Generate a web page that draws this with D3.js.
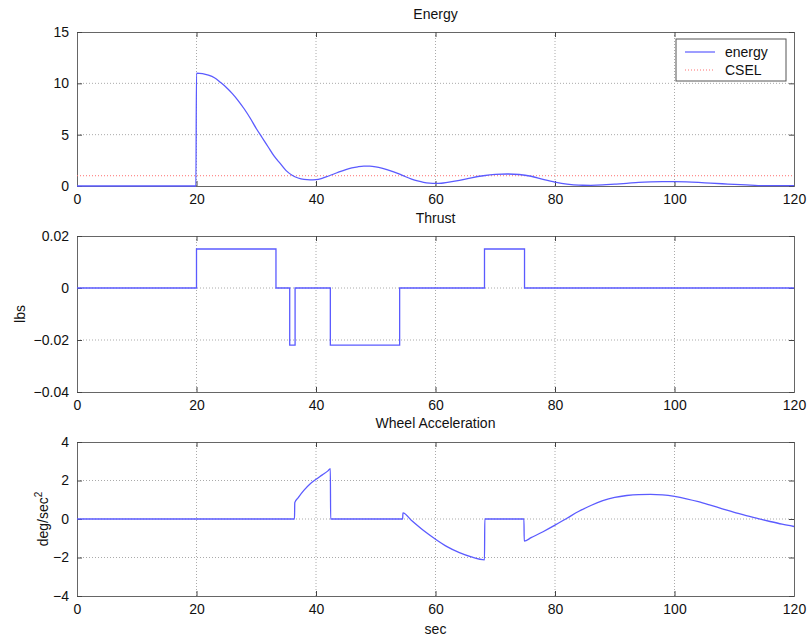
<!DOCTYPE html>
<html>
<head>
	<title>Energy, Thrust, Wheel Acceleration</title>
	<meta charset="utf-8">
	<script src="https://cdnjs.cloudflare.com/ajax/libs/d3/7.8.5/d3.min.js"></script>
	<style type="text/css">
		body { margin: 0; background: #fff; }
		text { font-family: "Liberation Sans", Arial, sans-serif; fill: #111; }
		.grid line { stroke: #aaa; stroke-dasharray: 1,2; }
	</style>
</head>
<body>
	<script type="text/javascript">

		// energy vs time
		let energyTime = [0, 19.9, 20, 21, 22, 23, 24, 25, 26, 27, 28, 29, 30, 31, 32, 33, 34, 35, 36, 37, 38, 39, 40,
			41, 42, 43, 44, 45, 46, 47, 48, 49, 50, 51, 52, 53, 54, 55, 56, 57, 58, 59, 60, 61, 62, 64, 66, 68, 70,
			72, 74, 76, 78, 80, 82, 84, 86, 88, 90, 92, 94, 96, 98, 100, 102, 104, 106, 108, 110, 112, 114, 116, 118, 120];
		let energyValue = [0, 0, 11, 10.95, 10.8, 10.55, 10.1, 9.6, 9.0, 8.3, 7.5, 6.6, 5.6, 4.7, 3.8, 2.9, 2.2, 1.5, 1.05, 0.78, 0.64, 0.6,
			0.62, 0.75, 0.95, 1.17, 1.4, 1.6, 1.76, 1.87, 1.93, 1.93, 1.87, 1.75, 1.58, 1.38, 1.15, 0.9, 0.68, 0.5, 0.36,
			0.28, 0.25, 0.27, 0.35, 0.55, 0.8, 1.0, 1.13, 1.17, 1.12, 0.95, 0.65, 0.38, 0.18, 0.08, 0.07, 0.1, 0.18,
			0.26, 0.35, 0.4, 0.42, 0.42, 0.4, 0.35, 0.28, 0.22, 0.16, 0.1, 0.04, 0.03, 0.03, 0.03];
		let cselValue = 1;

		// thrust steps (value holds until next time)
		let thrustTime = [0, 20, 33.3, 35.6, 36.5, 42.4, 54, 68.2, 74.9, 120];
		let thrustValue = [0, 0.015, 0, -0.022, 0, -0.022, 0, 0.015, 0, 0];

		// wheel acceleration
		let wheelTime = [0, 36.4, 36.45, 37, 38, 39, 40, 41, 42, 42.4, 42.45, 54.5, 54.55, 56, 58, 60, 62, 64, 66, 68.2,
			68.25, 74.8, 74.85, 76, 78, 80, 82, 84, 86, 88, 90, 92, 94, 96, 98, 100, 102, 104, 106, 108, 110, 112,
			114, 116, 118, 120];
		let wheelValue = [0, 0, 0.85, 1.1, 1.5, 1.82, 2.06, 2.28, 2.5, 2.62, 0, 0, 0.32, -0.08, -0.6, -1.05, -1.45, -1.75,
			-1.97, -2.12, 0, 0, -1.15, -0.97, -0.66, -0.32, 0.04, 0.4, 0.7, 0.95, 1.12, 1.22, 1.27, 1.28, 1.25, 1.17,
			1.05, 0.9, 0.72, 0.53, 0.35, 0.17, 0.02, -0.13, -0.27, -0.39];

		let xTicks = [0, 20, 40, 60, 80, 100, 120];
		let energyTicks = [0, 5, 10, 15];
		let thrustTicks = [-0.04, -0.02, 0, 0.02];
		let wheelTicks = [-4, -2, 0, 2, 4];

		let W = 810, H = 640;
		let left = 77, right = 794;
		let blue = '#5b5bff';

		let svg = d3.select('body').append('svg')
			.attr('width', W)
			.attr('height', H);

		let xScale = d3.scaleLinear().domain([0, 120]).range([left, right]);

		function panel(top, bottom, domain, yTicks, yFmt, title, titleY) {
			let y = d3.scaleLinear().domain(domain).range([bottom, top]);
			let g = svg.append('g');

			// grid
			let grid = g.append('g').attr('class', 'grid');
			grid.selectAll('.gx').data(xTicks.slice(1, -1)).enter().append('line')
				.attr('x1', d => xScale(d)).attr('x2', d => xScale(d))
				.attr('y1', top).attr('y2', bottom);
			grid.selectAll('.gy').data(yTicks.slice(1, -1)).enter().append('line')
				.attr('x1', left).attr('x2', right)
				.attr('y1', d => y(d)).attr('y2', d => y(d));

			// axes with inward ticks, all four sides
			g.append('g').attr('transform', `translate(0,${bottom})`)
				.call(d3.axisBottom(xScale).tickValues(xTicks).tickSize(-5).tickPadding(8));
			g.append('g').attr('transform', `translate(0,${top})`)
				.call(d3.axisTop(xScale).tickValues(xTicks).tickSize(-5).tickFormat(''));
			g.append('g').attr('transform', `translate(${left},0)`)
				.call(d3.axisLeft(y).tickValues(yTicks).tickSize(-5).tickPadding(8).tickFormat(yFmt));
			g.append('g').attr('transform', `translate(${right},0)`)
				.call(d3.axisRight(y).tickValues(yTicks).tickSize(-5).tickFormat(''));

			g.selectAll('.domain').attr('stroke', '#666');
			g.selectAll('.tick line').attr('stroke', '#444');
			g.selectAll('.tick text')
				.style('font-family', '"Liberation Sans", Arial, sans-serif')
				.style('font-size', '14px').attr('fill', '#111');

			svg.append('text')
				.attr('x', (left + right) / 2).attr('y', titleY)
				.attr('text-anchor', 'middle')
				.style('font-size', '14px')
				.text(title);

			return { g: g, y: y };
		}

		// Energy
		let p1 = panel(32, 186, [0, 15], energyTicks, d3.format('d'), 'Energy', 19);
		p1.g.append('line')
			.attr('x1', xScale(0)).attr('x2', xScale(120))
			.attr('y1', p1.y(cselValue)).attr('y2', p1.y(cselValue))
			.attr('stroke', '#ff7070').attr('stroke-dasharray', '1,2').attr('stroke-width', 1);
		p1.g.append('path')
			.datum(energyTime.map((t, i) => [t, energyValue[i]]))
			.attr('fill', 'none').attr('stroke', blue).attr('stroke-width', 1.3)
			.attr('d', d3.line().x(d => xScale(d[0])).y(d => p1.y(d[1])).curve(d3.curveMonotoneX));

		// legend
		let lg = p1.g.append('g').attr('transform', 'translate(676,39)');
		lg.append('rect').attr('width', 110).attr('height', 42)
			.attr('fill', '#fff').attr('stroke', '#555');
		lg.append('line').attr('x1', 9).attr('x2', 39).attr('y1', 13).attr('y2', 13)
			.attr('stroke', blue).attr('stroke-width', 1.2);
		lg.append('line').attr('x1', 9).attr('x2', 39).attr('y1', 31).attr('y2', 31)
			.attr('stroke', '#ff7070').attr('stroke-dasharray', '1,2');
		lg.append('text').attr('x', 49).attr('y', 18).style('font-size', '14px').text('energy');
		lg.append('text').attr('x', 49).attr('y', 36).style('font-size', '14px').text('CSEL');

		// Thrust
		let p2 = panel(236, 392, [-0.04, 0.02], thrustTicks, d => d === 0 ? '0' : d3.format('.2f')(d), 'Thrust', 223);
		p2.g.append('path')
			.datum(thrustTime.map((t, i) => [t, thrustValue[i]]))
			.attr('fill', 'none').attr('stroke', blue).attr('stroke-width', 1.3)
			.attr('d', d3.line().x(d => xScale(d[0])).y(d => p2.y(d[1])).curve(d3.curveStepAfter));
		svg.append('text')
			.attr('transform', `translate(25,${(236 + 392) / 2}) rotate(-90)`)
			.attr('text-anchor', 'middle')
			.style('font-size', '14px')
			.text('lbs');

		// Wheel acceleration
		let p3 = panel(442, 596, [-4, 4], wheelTicks, d3.format('d'), 'Wheel Acceleration', 428);
		p3.g.append('path')
			.datum(wheelTime.map((t, i) => [t, wheelValue[i]]))
			.attr('fill', 'none').attr('stroke', blue).attr('stroke-width', 1.3)
			.attr('d', d3.line().x(d => xScale(d[0])).y(d => p3.y(d[1])).curve(d3.curveMonotoneX));
		let yl = svg.append('text')
			.attr('transform', `translate(48,${(442 + 596) / 2}) rotate(-90)`)
			.attr('text-anchor', 'middle')
			.style('font-size', '14px');
		yl.append('tspan').text('deg/sec');
		yl.append('tspan').attr('dy', -6).style('font-size', '10px').text('2');

		svg.append('text')
			.attr('x', (left + right) / 2).attr('y', 634)
			.attr('text-anchor', 'middle')
			.style('font-size', '14px')
			.text('sec');
</script>
</body>
</html>
